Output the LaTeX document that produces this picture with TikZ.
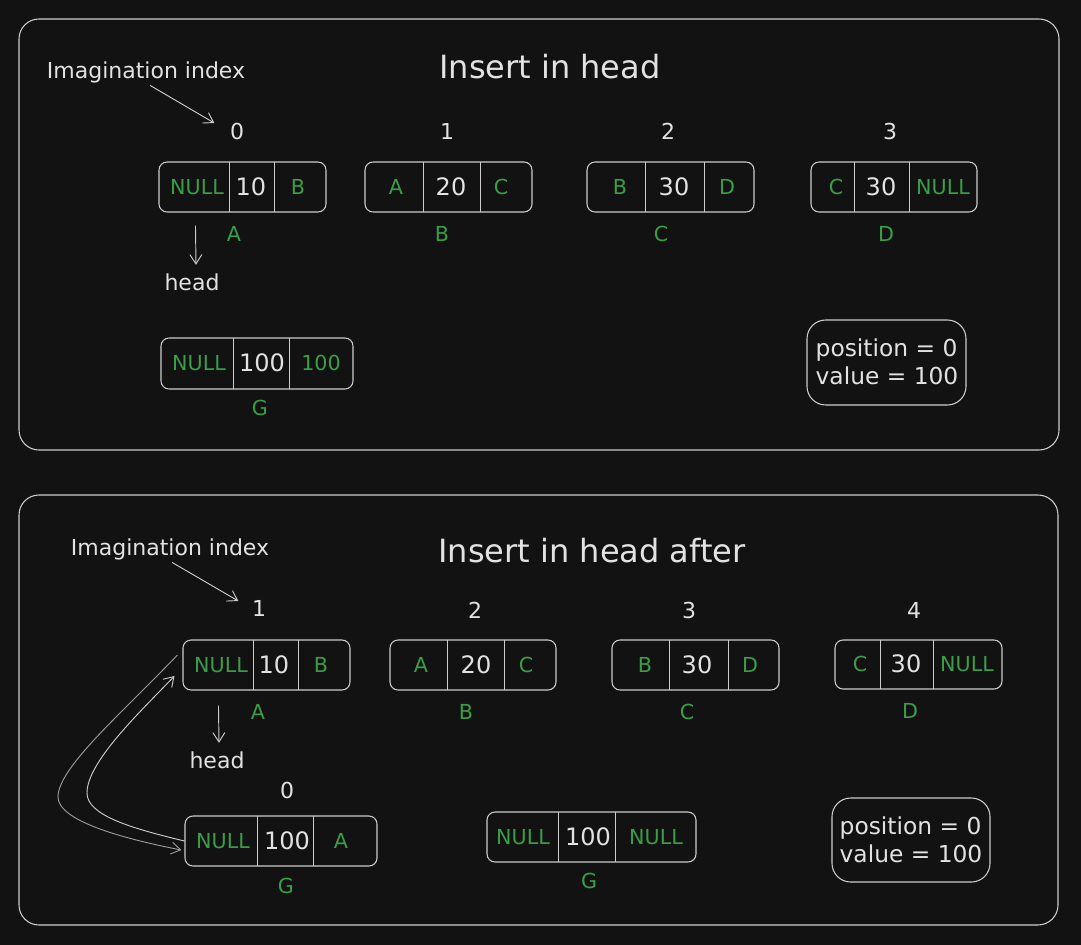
\documentclass[tikz,border=0pt]{standalone}
\usepackage{fontspec}
\setmainfont{DejaVu Sans}
\usetikzlibrary{arrows.meta,fit}
\definecolor{bgc}{HTML}{121212}
\definecolor{strk}{HTML}{CCCCCC}
\definecolor{wtc}{HTML}{E2E2E2}
\definecolor{grn}{HTML}{3A9E48}
\definecolor{dimc}{HTML}{9A9A9A}
\begin{document}
\begin{tikzpicture}[x=0.75pt,y=-0.75pt,
 frame/.style={draw=strk, line width=0.8pt, rounded corners=15pt, inner sep=0pt},
 cellbox/.style={draw=strk, line width=0.8pt, rounded corners=6pt, inner sep=0pt},
 posbox/.style={draw=strk, line width=0.8pt, rounded corners=14pt, inner sep=0pt},
 cline/.style={draw=strk, line width=0.7pt},
 gt/.style={text=grn, font=\fontsize{15.5}{18}\selectfont, inner sep=1pt},
 wt/.style={text=wtc, font=\fontsize{18}{20}\selectfont, inner sep=1pt},
 lbl/.style={text=wtc, font=\fontsize{16.5}{19}\selectfont},
 postext/.style={text=wtc, font=\fontsize{17.5}{21}\selectfont, align=left},
 ttl/.style={text=wtc, font=\fontsize{24}{28}\selectfont},
 arr/.style={draw=strk, line width=0.7pt, -{Straight Barb[length=7pt,width=9pt]}},
]
\useasboundingbox (0,0) rectangle (1081,945);
\fill[bgc] (0,0) rectangle (1081,945);

% ================= TOP =================
\node[frame, fit={(19,19)(1059,450)}] (F1) {};
\node[ttl] (t1) at (550,67) {Insert in head};
\node[lbl] (im1) at (146,72) {Imagination index};
\node[lbl] (ia0) at (237,131) {0};
\node[lbl] (ia1) at (447,131) {1};
\node[lbl] (ia2) at (668,131) {2};
\node[lbl] (ia3) at (890,131) {3};
\draw[arr] ([shift={(4,-2)}]im1.south) -- ([shift={(-11,-8)}]ia0.west);

% A
\node[cellbox, fit={(159,162)(326,212)}] (A1) {};
\draw[cline] (229,162) -- (229,212);
\draw[cline] (274,162) -- (274,212);
\node[gt] at (197,187) {NULL};
\node[wt] at (251,187) {10};
\node[gt] at (298,187) {B};
\node[gt] (lA1) at (234,234) {A};
% B
\node[cellbox, fit={(365,162)(532,212)}] (B1) {};
\draw[cline] (423,162) -- (423,212);
\draw[cline] (480,162) -- (480,212);
\node[gt] at (396,187) {A};
\node[wt] at (451,187) {20};
\node[gt] at (501,187) {C};
\node[gt] (lB1) at (442,234) {B};
% C
\node[cellbox, fit={(587,162)(754,212)}] (C1) {};
\draw[cline] (645,162) -- (645,212);
\draw[cline] (704,162) -- (704,212);
\node[gt] at (620,187) {B};
\node[wt] at (674,187) {30};
\node[gt] at (727,187) {D};
\node[gt] (lC1) at (661,234) {C};
% D
\node[cellbox, fit={(811,162)(977,212)}] (D1) {};
\draw[cline] (854,162) -- (854,212);
\draw[cline] (909,162) -- (909,212);
\node[gt] at (836,187) {C};
\node[wt] at (881,187) {30};
\node[gt] at (943,187) {NULL};
\node[gt] (lD1) at (886,234) {D};
% head
\node[lbl] (h1) at (192,282) {head};
\draw[arr] ([shift={(37,13)}]A1.south west) -- ([shift={(4,-4)}]h1.north);
% G
\node[cellbox, fit={(161,338)(353,389)}] (G1) {};
\draw[cline] (233,338) -- (233,389);
\draw[cline] (289,338) -- (289,389);
\node[gt] at (199,363) {NULL};
\node[wt] at (262,363) {100};
\node[gt] at (321,363) {100};
\node[gt] (lG1) at (260,408) {G};
% position
\node[posbox, fit={(807,320)(966,405)}] (P1) {};
\node[postext] at (887,362) {position = 0\\value = 100};

% ================= BOTTOM =================
\node[frame, fit={(19,495)(1058,925)}] (F2) {};
\node[ttl] (t2) at (592,551) {Insert in head after};
\node[lbl] (im2) at (170,549) {Imagination index};
\node[lbl] (ib1) at (259,608) {1};
\node[lbl] (ib2) at (475,610) {2};
\node[lbl] (ib3) at (689,610) {3};
\node[lbl] (ib4) at (914,610) {4};
\draw[arr] ([shift={(2,-2)}]im2.south) -- ([shift={(-9,-7)}]ib1.west);

% A
\node[cellbox, fit={(183,640)(350,690)}] (A2) {};
\draw[cline] (253,640) -- (253,690);
\draw[cline] (298,640) -- (298,690);
\node[gt] at (221,665) {NULL};
\node[wt] at (274,665) {10};
\node[gt] at (321,665) {B};
\node[gt] (lA2) at (258,712) {A};
% B
\node[cellbox, fit={(390,640)(556,690)}] (B2) {};
\draw[cline] (447,640) -- (447,690);
\draw[cline] (504,640) -- (504,690);
\node[gt] at (421,665) {A};
\node[wt] at (476,665) {20};
\node[gt] at (526,665) {C};
\node[gt] (lB2) at (466,712) {B};
% C
\node[cellbox, fit={(612,640)(779,690)}] (C2) {};
\draw[cline] (669,640) -- (669,690);
\draw[cline] (728,640) -- (728,690);
\node[gt] at (645,665) {B};
\node[wt] at (697,665) {30};
\node[gt] at (750,665) {D};
\node[gt] (lC2) at (687,712) {C};
% D
\node[cellbox, fit={(835,640)(1002,689)}] (D2) {};
\draw[cline] (880,640) -- (880,689);
\draw[cline] (933,640) -- (933,689);
\node[gt] at (860,664) {C};
\node[wt] at (906,664) {30};
\node[gt] at (967,664) {NULL};
\node[gt] (lD2) at (910,711) {D};
% head
\node[lbl] (h2) at (217,760) {head};
\draw[arr] ([shift={(36,15)}]A2.south west) -- ([shift={(2,-4)}]h2.north);
% index 0
\node[lbl] (ib0) at (287,790) {0};
% G (inserted)
\node[cellbox, fit={(185,816)(377,866)}] (G2) {};
\draw[cline] (257,816) -- (257,866);
\draw[cline] (313,816) -- (313,866);
\node[gt] at (223,841) {NULL};
\node[wt] at (287,841) {100};
\node[gt] at (341,841) {A};
\node[gt] (lG2) at (286,886) {G};
% G (alone)
\node[cellbox, fit={(487,812)(696,862)}] (G3) {};
\draw[cline] (558,812) -- (558,862);
\draw[cline] (615,812) -- (615,862);
\node[gt] at (523,837) {NULL};
\node[wt] at (588,837) {100};
\node[gt] at (656,837) {NULL};
\node[gt] (lG3) at (589,881) {G};
% position
\node[posbox, fit={(832,798)(990,882)}] (P2) {};
\node[postext] at (911,840) {position = 0\\value = 100};

% curved links between A and G
\draw[arr, draw=dimc] ([shift={(-5,-10)}]A2.west) .. controls (120,715) and (58,768) .. (58,797)
   .. controls (58,822) and (130,840) .. ([shift={(-3,9)}]G2.west);
\draw[arr] (G2.west) .. controls (130,828) and (87,815) .. (87,793)
   .. controls (87,762) and (140,712) .. ([shift={(-8,11)}]A2.west);
\end{tikzpicture}
\end{document}
